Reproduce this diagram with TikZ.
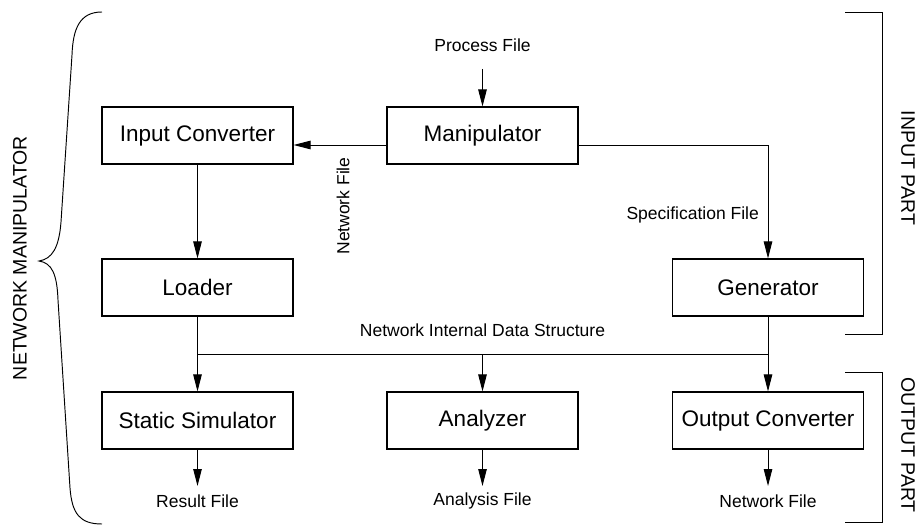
\documentclass[tikz,border=0pt]{standalone}
\usepackage{fontspec}
\setmainfont{Liberation Sans}
\usetikzlibrary{arrows.meta}
\begin{document}
\begin{tikzpicture}[x=1pt,y=-1pt,
  box/.style={draw, line width=1.1pt, minimum width=191pt, minimum height=57pt, inner sep=0pt, font=\fontsize{22.5}{26}\selectfont},
  lbl/.style={font=\fontsize{17.5}{20}\selectfont, inner sep=0pt},
  side/.style={font=\fontsize{19.5}{22}\selectfont, inner sep=0pt},
  conn/.style={line width=0.95pt},
  arr/.style={conn, -{Triangle[length=17pt,width=8.5pt]}},
  brk/.style={line width=0.95pt}]
\useasboundingbox (0,0) rectangle (920,526);
% boxes
\node[box] (ic)  at (197.5,135.5) {Input Converter};
\node[box] (man) at (482.5,135.5) {Manipulator};
\node[box] (ld)  at (197.5,287.5) {Loader};
\node[box] (gen) at (768,287.5) {Generator};
\node[box] (ss)  at (197.5,420.5) {Static Simulator};
\node[box] (an)  at (482.5,420.5) {Analyzer};
\node[box] (oc)  at (768,420.5) {Output Converter};
% labels
\node[lbl] (pf) at (482.5,45) {Process File};
\node[lbl, rotate=90] (nf) at (343,206) {Network File};
\node[lbl, anchor=east] (sf) at (759,215) {Specification File};
\node[lbl] (nids) at (482.5,330) {Network Internal Data Structure};
\node[lbl] (rf) at (197.5,501) {Result File};
\node[lbl] (af) at (482.5,501) {Analysis File};
\node[lbl] (nf2) at (768,501) {Network File};
% helper coordinates
\coordinate (pfa) at (482.5,69);
\coordinate (ly) at (0,145);
\coordinate (bus) at (0,354);
\coordinate (rfa) at (197.5,486);
\coordinate (afa) at (482.5,486);
\coordinate (nfa) at (768,486);
% connectors
\draw[arr] (pfa) -- (man.north);
\draw[arr] (man.west |- ly) -- (ic.east |- ly);
\draw[arr] (man.east |- ly) -| (gen.north);
\draw[arr] (ic.south) -- (ld.north);
\draw[arr] (ld.south) -- (ss.north);
\draw[arr] (gen.south) -- (oc.north);
\draw[conn] (ld.south |- bus) -- (gen.south |- bus);
\draw[arr] (an.north |- bus) -- (an.north);
\draw[arr] (ss.south) -- (rfa);
\draw[arr] (an.south) -- (afa);
\draw[arr] (oc.south) -- (nfa);
% brace
\draw[brk] (102,12) .. controls (80,12) and (73,28) .. (72,55)
  -- (61,222) .. controls (59,248) and (52,259) .. (39,261)
  .. controls (52,263) and (57,274) .. (58,300)
  -- (70,488) .. controls (72,514) and (80,524) .. (102,524);
\node[side, rotate=90] (nm) at (20,258) {NETWORK MANIPULATOR};
% right brackets
\draw[brk] (845,12) -- (882,12) -- (882,334) -- (845,334);
\draw[brk] (845,372) -- (882,372) -- (882,522) -- (845,522);
\node[side, rotate=-90] (ip) at (908,168) {INPUT PART};
\node[side, rotate=-90] (op) at (908,445) {OUTPUT PART};
\end{tikzpicture}
\end{document}
